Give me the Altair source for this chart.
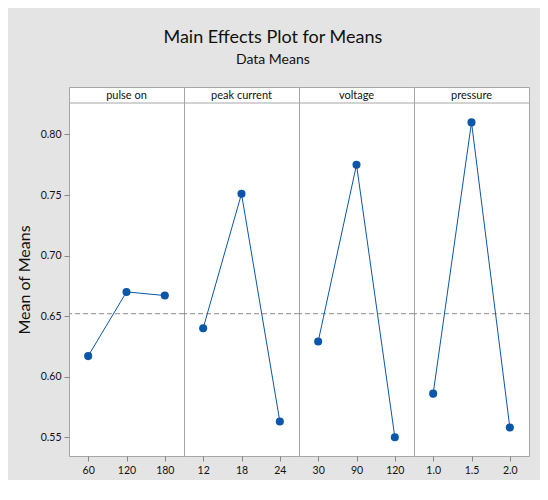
import altair as alt
import pandas as pd

factors = ["pulse on", "peak current", "voltage", "pressure"]
levels = [["60", "120", "180"], ["12", "18", "24"], ["30", "90", "120"], ["1.0", "1.5", "2.0"]]
means = [[0.617, 0.670, 0.667], [0.640, 0.751, 0.563], [0.629, 0.775, 0.550], [0.586, 0.810, 0.558]]
grand_mean = 0.652
y_ticks = [0.55, 0.60, 0.65, 0.70, 0.75, 0.80]

FONT = "Lato"
BLUE = "#0a56a8"
FRAME = "#a6a6a6"
PW, SH, PH = 115, 16, 353
YDOM = [0.5345, 0.826]

panels = []
for i, f in enumerate(factors):
    df = pd.DataFrame({"level": levels[i], "mean": means[i]})
    yaxis = alt.Axis(values=y_ticks, format=".2f", title="Mean of Means", grid=False,
                     domain=False, tickColor="#888", tickSize=5, labelFontSize=10.5,
                     labelColor="#111", labelFont=FONT, titleFont=FONT, titleFontSize=16,
                     titleFontWeight="normal", titleColor="#111", titlePadding=8,
                     labelPadding=3) if i == 0 else None
    yscale = alt.Scale(domain=YDOM, range=[SH + PH, SH], nice=False, zero=False)
    y = alt.Y("mean:Q", scale=yscale, axis=yaxis)
    x = alt.X("level:O", sort=levels[i], scale=alt.Scale(paddingOuter=0.5),
              axis=alt.Axis(title=None, labelAngle=0, domain=False, tickColor="#888",
                            tickSize=5, labelFontSize=10.5, labelColor="#111", labelFont=FONT,
                            labelPadding=4))
    base = alt.Chart(df)
    rule = alt.Chart(pd.DataFrame({"mean": [grand_mean]})).mark_rule(
        color="#8c8c8c", strokeDash=[5, 3], strokeWidth=1).encode(y=y)
    line = base.mark_line(color=BLUE, strokeWidth=1).encode(x=x, y=y)
    pts = base.mark_circle(color=BLUE, size=65, opacity=1).encode(x=x, y=y)
    sdf = pd.DataFrame({"f": [f]})
    sep = alt.Chart(sdf).mark_rule(color=FRAME, strokeWidth=1).encode(
        x=alt.value(0), x2=alt.value(PW), y=alt.value(SH))
    label = alt.Chart(sdf).mark_text(
        font=FONT, fontSize=11, color="#111", baseline="middle", align="center").encode(
        text="f:N", x=alt.value(PW / 2), y=alt.value(SH / 2 + 0.5))
    panels.append(alt.layer(rule, line, pts, sep, label).properties(width=PW, height=SH + PH))

chart = alt.hconcat(*panels, spacing=0, bounds="flush").properties(
    title=alt.TitleParams("Main Effects Plot for Means", subtitle="Data Means", anchor="middle",
                          font=FONT, fontSize=18, fontWeight="normal", color="#111",
                          subtitleFont=FONT, subtitleFontSize=14, subtitleColor="#111",
                          subtitlePadding=6, offset=20),
    padding={"left": 7, "top": 20, "right": 10, "bottom": 4},
).configure(background="#e4e4e4").configure_view(stroke=FRAME, fill="white", strokeWidth=1)

chart.save("out.html", embed_options={"renderer": "svg", "actions": False})
